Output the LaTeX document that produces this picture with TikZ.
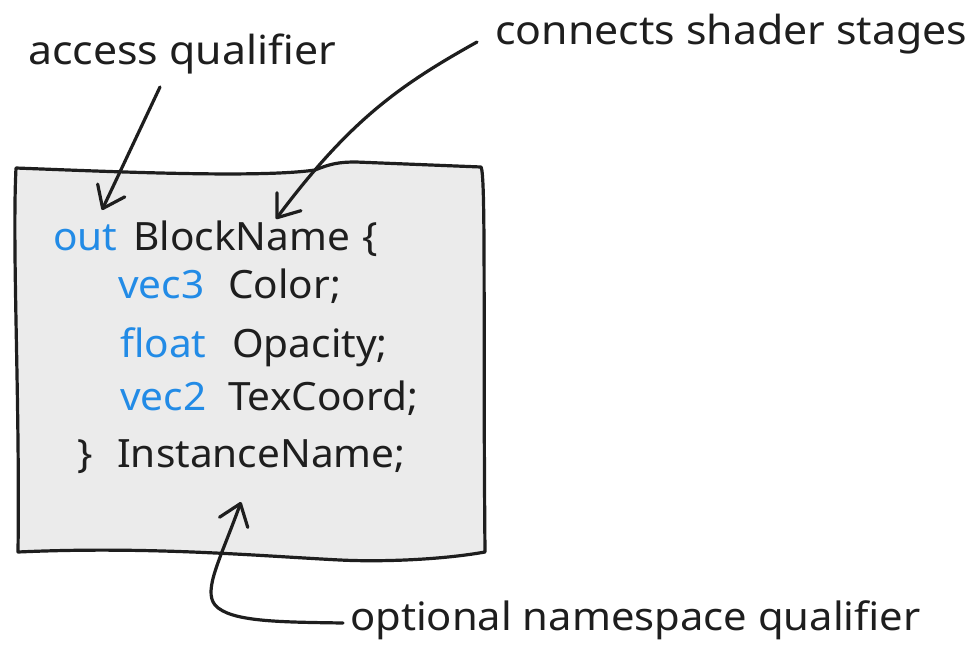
\documentclass[tikz,border=0pt]{standalone}
\usepackage{fontspec}
\setmainfont{Noto Sans}
\newfontfamily\lblfam[FakeStretch=1.07]{Noto Sans}
\newfontfamily\codefam[FakeStretch=1.04]{Noto Sans}
\usetikzlibrary{arrows.meta}
\definecolor{kw}{RGB}{34,139,230}
\definecolor{boxfill}{RGB}{235,235,235}
\definecolor{ink}{RGB}{30,30,30}
\newcommand{\codefont}{\codefam\fontsize{39}{39}\selectfont}
\newcommand{\lblfont}{\lblfam\fontsize{40}{40}\selectfont}
\tikzset{
  codetxt/.style={anchor=base west, inner sep=0pt, font=\codefont, text=ink},
  kwd/.style={codetxt, text=kw},
  lbl/.style={anchor=base west, inner sep=0pt, font=\lblfont, text=ink},
  pen/.style={line width=3.2pt, line cap=round, line join=round, draw=ink},
  arr/.style={pen, -{Straight Barb[length=20pt,width=30pt,round]}}
}
\begin{document}
\begin{tikzpicture}[x=1pt,y=-1pt]
\useasboundingbox (0,0) rectangle (980,646);
% block box
\filldraw[pen, fill=boxfill]
  (16,168) .. controls (120,172) and (260,178) .. (315,170)
  .. controls (330,164) and (338,162) .. (356,162)
  -- (481,167)
  .. controls (486,175) and (483,330) .. (485,552)
  .. controls (440,560) and (380,562) .. (340,560)
  .. controls (260,556) and (150,546) .. (18,552)
  .. controls (20,400) and (12,250) .. cycle;
% code
\node[kwd] (kout) at (53,250) {out};
\node[codetxt] (bname) at (133,250) {BlockName};
\node[codetxt] (lbrace) at (362,250) {\{};
\node[kwd] (kvec3) at (118,298) {vec3};
\node[codetxt] (color) at (228,298) {Color;};
\node[kwd] (kfloat) at (120,357) {float};
\node[codetxt] (opac) at (232,357) {Opacity;};
\node[kwd] (kvec2) at (120,410) {vec2};
\node[codetxt] (tex) at (228,410) {TexCoord;};
\node[codetxt] (rbrace) at (77,467) {\}};
\node[codetxt] (iname) at (117,467) {InstanceName;};
% labels
\node[lbl] (lacc) at (28,64) {access qualifier};
\node[lbl] (lcon) at (495,44) {connects shader stages};
\node[lbl, font=\lblfam\fontsize{39}{39}\selectfont] (lopt) at (350,630) {optional namespace qualifier};
% arrow anchors
\coordinate (a1s) at (160,87);
\coordinate (a1t) at (102,210);
\coordinate (a2s) at (477,42);
\coordinate (a2t) at (276,219);
\coordinate (a3s) at (343,623);
\coordinate (a3t) at (241,502);
% arrows
\draw[arr] (a1s) -- (a1t);
\draw[arr] (a2s) .. controls (400,85) and (350,120) .. (a2t);
\draw[arr] (a3s) .. controls (280,622) and (230,622) .. (215,605)
  .. controls (203,590) and (220,560) .. (a3t);
\end{tikzpicture}
\end{document}
